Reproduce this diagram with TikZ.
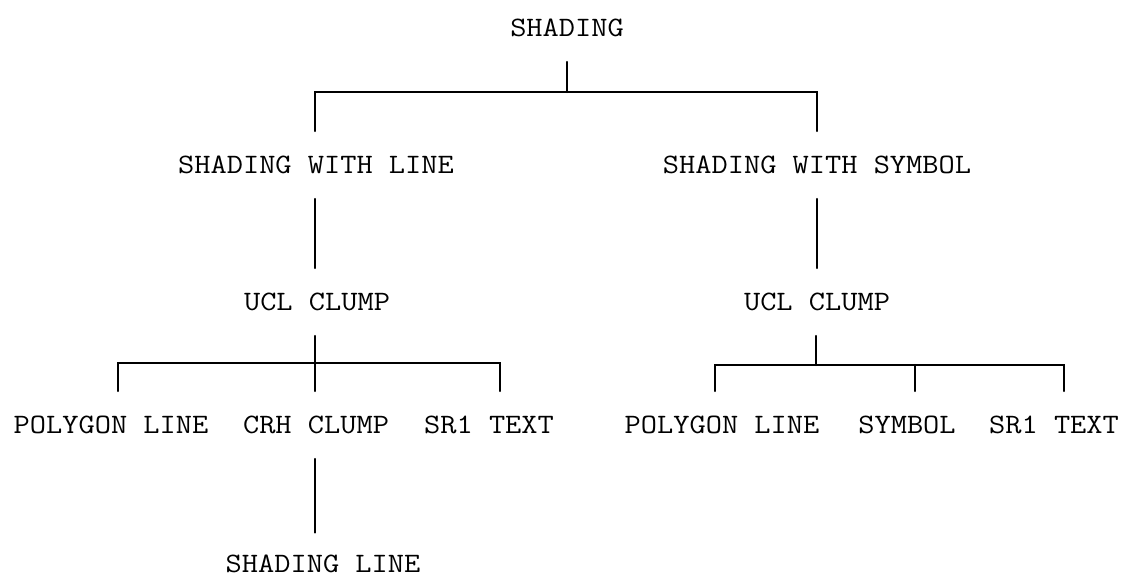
\documentclass[tikz,border=0pt]{standalone}
\usepackage{fontspec}
\usepackage{tikz}

% typewriter text, a little wider than Latin Modern Mono
\newcommand\tw[1]{\scalebox{1.12}[1]{#1}}

\begin{document}
\begin{tikzpicture}[
  x=0.02cm, y=-0.02cm,
  lbl/.style={inner xsep=0pt, inner ysep=0.5cm, text height=9.8pt, text depth=0pt, font=\fontsize{16}{18}\selectfont\ttfamily},
  link/.style={line width=1.3pt, line cap=round},
]
  \useasboundingbox (0,0) rectangle (1125,582);

  \node[lbl] (shading) at (567, 28) {\tw{SHADING}};
  \node[lbl] (withline) at (316, 165) {\tw{SHADING WITH LINE}};
  \node[lbl] (withsym) at (817, 165) {\tw{SHADING WITH SYMBOL}};
  \node[lbl] (uclL) at (317, 302) {\tw{UCL CLUMP}};
  \node[lbl] (uclR) at (817, 302) {\tw{UCL CLUMP}};
  \node[lbl] (polyL) at (111, 425) {\tw{POLYGON LINE}};
  \node[lbl] (crh) at (316, 425) {\tw{CRH CLUMP}};
  \node[lbl] (srL) at (489, 425) {\tw{SR1 TEXT}};
  \node[lbl] (polyR) at (722, 425) {\tw{POLYGON LINE}};
  \node[lbl] (symbol) at (907, 425) {\tw{SYMBOL}};
  \node[lbl] (srR) at (1054, 425) {\tw{SR1 TEXT}};
  \node[lbl, inner ysep=0.45cm] (shline) at (323, 564) {\tw{SHADING LINE}};

  % top level
  \coordinate (top) at (567, 92);
  \coordinate (tl) at (315, 92);
  \coordinate (tr) at (817, 92);
  \draw[link] (shading.south) -- (top);
  \draw[link] (withline.north -| tl) -- (tl) -- (tr) -- (withsym.north -| tr);
  \draw[link] (withline.south -| tl) -- (uclL.north -| tl);
  \draw[link] (withsym.south -| tr) -- (uclR.north -| tr);

  % left clump
  \coordinate (ml) at (315, 363);
  \coordinate (ml1) at (118, 363);
  \coordinate (ml3) at (500, 363);
  \draw[link] (uclL.south -| ml) -- (crh.north -| ml);
  \draw[link] (polyL.north -| ml1) -- (ml1) -- (ml3) -- (srL.north -| ml3);
  \draw[link] (crh.south -| ml) -- (shline.north -| ml);

  % right clump
  \coordinate (mr) at (816, 365);
  \coordinate (mr1) at (715, 365);
  \coordinate (mr2) at (915, 365);
  \coordinate (mr3) at (1064, 365);
  \draw[link] (uclR.south -| mr) -- (mr);
  \draw[link] (polyR.north -| mr1) -- (mr1) -- (mr3) -- (srR.north -| mr3);
  \draw[link] (mr2) -- (symbol.north -| mr2);
\end{tikzpicture}
\end{document}
